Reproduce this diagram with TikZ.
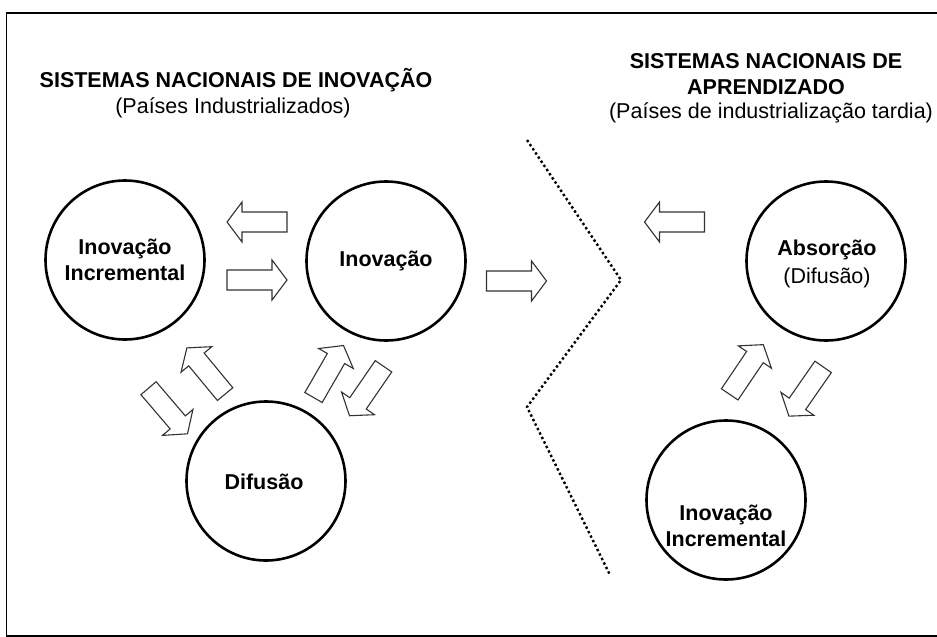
\documentclass[tikz,border=0pt]{standalone}
\usepackage{fontspec}
\setmainfont{Liberation Sans}
\begin{document}
\begin{tikzpicture}[x=1pt,y=-1pt,
  circ/.style={draw, circle, line width=2.6pt, minimum size=159pt, inner sep=0pt},
  lbl/.style={font=\fontsize{21.5}{26}\selectfont\bfseries, align=center, inner sep=0pt},
  sub/.style={font=\fontsize{21.5}{26}\selectfont, align=center, inner sep=0pt},
  blk/.style={draw=black!80, line width=1.1pt, fill=white, line join=miter},
  dots/.style={line width=2.4pt, dash pattern=on 2.4pt off 2.6pt},
  frame/.style={draw=black, line width=1.2pt},
  blockarrow/.pic={\draw[blk] (-30,-10) -- (15,-10) -- (15,-20) -- (30,0) -- (15,20) -- (15,10) -- (-30,10) -- cycle;}
]
\useasboundingbox (0,0) rectangle (937,637);
% frame
\coordinate (f1) at (940,13);
\coordinate (f2) at (6.5,13);
\coordinate (f3) at (6.5,636);
\coordinate (f4) at (940,636);
\draw[frame] (f1) -- (f2) -- (f3) -- (f4);

% titles
\node[lbl] (t1) at (236,80) {SISTEMAS NACIONAIS DE INOVAÇÃO};
\node[sub] (s1) at (233,108) {(Países Industrializados)};
\node[lbl] (t2) at (766,74) {SISTEMAS NACIONAIS DE\\APRENDIZADO};
\node[sub] (s2) at (771,113) {(Países de industrialização tardia)};

% circles
\node[circ] (ci) at (125,260) {};
\node[circ] (cn) at (386,261) {};
\node[circ] (cd) at (266,481) {};
\node[circ] (ca) at (826,261) {};
\node[circ] (cr) at (726,500) {};

\node[lbl] (li) at (125,260) {Inovação\\Incremental};
\node[lbl] (ln) at (386,261) {Inovação};
\node[lbl] (ld) at (264,482) {Difusão};
\node[lbl, font=\fontsize{21.5}{28}\selectfont\bfseries] (la) at (827,264) {Absorção\\\mdseries(Difusão)};
\node[lbl] (lr) at (726,526) {Inovação\\Incremental};

% block arrows
\pic[rotate=180] at (257,222) {blockarrow};
\pic at (257,280) {blockarrow};
\pic at (516.5,281) {blockarrow};
\pic[rotate=180] at (674.5,222) {blockarrow};
\pic[rotate=129.6] at (206,371) {blockarrow};
\pic[rotate=-49.5] at (168,411) {blockarrow};
\pic[rotate=60] at (328.5,371.5) {blockarrow};
\pic[rotate=-124.5] at (366.5,391) {blockarrow};
\pic[rotate=56] at (746.5,369.5) {blockarrow};
\pic[rotate=-124.8] at (806,391.5) {blockarrow};

% dotted divider
\coordinate (d1) at (527,140);
\coordinate (d2) at (621,280);
\coordinate (d3) at (527,407);
\coordinate (d4) at (610,575);
\draw[dots] (d1) -- (d2) -- (d3) -- (d4);
\end{tikzpicture}
\end{document}
